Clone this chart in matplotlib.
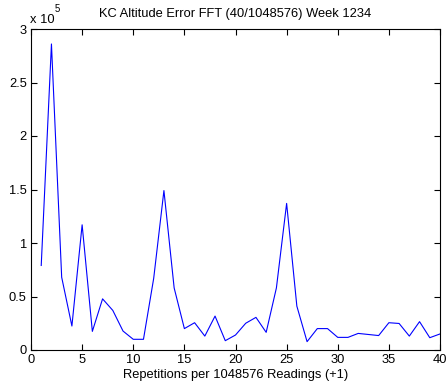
import matplotlib
matplotlib.use("Agg")
import matplotlib.pyplot as plt
import numpy as np

plt.rcParams['font.family'] = ['Liberation Sans', 'DejaVu Sans']

# Data: values in units of x 10^5
x = list(range(1, 41))
y = [0.79, 2.86, 0.68, 0.224, 1.17, 0.174, 0.478, 0.37, 0.177, 0.10,
     0.10, 0.67, 1.49, 0.58, 0.20, 0.255, 0.13, 0.317, 0.087, 0.14,
     0.25, 0.305, 0.165, 0.58, 1.37, 0.41, 0.078, 0.20, 0.20, 0.118,
     0.118, 0.155, 0.145, 0.135, 0.255, 0.248, 0.13, 0.265, 0.115, 0.15]
xticks = [0, 5, 10, 15, 20, 25, 30, 35, 40]
yticks = [0, 0.5, 1, 1.5, 2, 2.5, 3]
yticklabels = ['0', '0.5', '1', '1.5', '2', '2.5', '3']
title = 'KC Altitude Error FFT (40/1048576) Week 1234'
xlabel = 'Repetitions per 1048576 Readings (+1)'

fs = 9.3
fig = plt.figure(figsize=(4.48, 3.91), dpi=100)
ax = fig.add_axes([31/448, 1-350/391, (440-31)/448, (350-29)/391])
ax.plot(x, y, color='#0000ff', linewidth=0.8)
ax.set_xlim(0, 40)
ax.set_ylim(0, 3)
ax.set_xticks(xticks)
ax.set_yticks(yticks)
ax.set_yticklabels(yticklabels)
ax.tick_params(direction='in', top=True, right=True, labelsize=fs, length=4, width=0.8, pad=3)
for s in ax.spines.values():
    s.set_linewidth(0.8)
ax.set_title(title, fontsize=fs, pad=9)
ax.set_xlabel(xlabel, fontsize=fs, labelpad=2)
ax.text(30/448, 1-23/391, 'x 10', transform=fig.transFigure, fontsize=fs,
        ha='left', va='baseline')
ax.text(55/448, 1-12/391, '5', transform=fig.transFigure, fontsize=fs*0.75,
        ha='left', va='baseline')
fig.savefig('out.png', dpi=100)
